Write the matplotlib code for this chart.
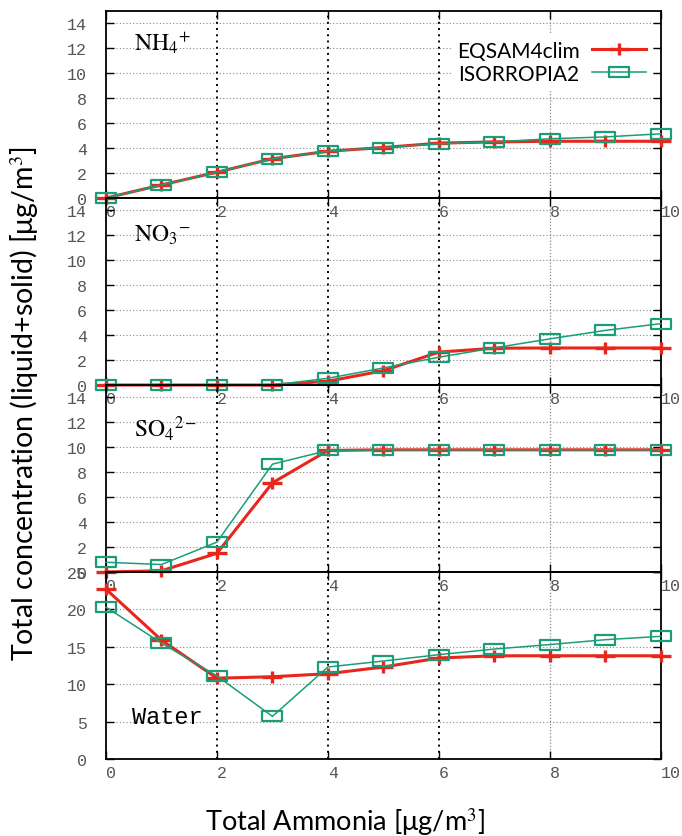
import matplotlib
matplotlib.use('Agg')
import matplotlib.pyplot as plt
from matplotlib.path import Path
import numpy as np

# total ammonia [ug/m3]
ammonia = [0, 1, 2, 3, 4, 5, 6, 7, 8, 9, 10]

# EQSAM4clim
eq_nh4 = [0.0, 1.05, 2.07, 3.15, 3.75, 4.05, 4.4, 4.5, 4.55, 4.55, 4.55]
eq_no3 = [0.0, 0.0, 0.0, 0.0, 0.3, 1.15, 2.64, 2.95, 2.97, 2.97, 2.97]
eq_so4 = [0.0, 0.1, 1.5, 7.15, 9.75, 9.8, 9.8, 9.8, 9.8, 9.8, 9.8]
eq_h2o = [22.7, 15.9, 10.8, 11.0, 11.4, 12.3, 13.5, 13.8, 13.8, 13.8, 13.8]

# ISORROPIA2
is_nh4 = [0.0, 1.05, 2.07, 3.15, 3.75, 4.05, 4.35, 4.5, 4.75, 4.9, 5.15]
is_no3 = [0.0, 0.0, 0.0, 0.0, 0.54, 1.37, 2.23, 2.98, 3.7, 4.38, 4.92]
is_so4 = [0.78, 0.6, 2.4, 8.65, 9.75, 9.8, 9.8, 9.8, 9.8, 9.8, 9.8]
is_h2o = [20.3, 15.5, 11.1, 5.7, 12.3, 13.1, 13.95, 14.7, 15.3, 15.95, 16.4]

panels = [
    (r'$\mathrm{NH_4{}^{+}}$', eq_nh4, is_nh4, 15, np.arange(0, 15, 2), 0.834),
    (r'$\mathrm{NO_3{}^{-}}$', eq_no3, is_no3, 15, np.arange(0, 15, 2), 0.807),
    (r'$\mathrm{SO_4{}^{2-}}$', eq_so4, is_so4, 15, np.arange(0, 15, 2), 0.775),
    ('Water', eq_h2o, is_h2o, 25, np.arange(0, 26, 5), 0.225),
]

red = '#e8261c'
green = '#1b9e77'
plus = Path([(-1, 0), (1, 0), (0, -0.55), (0, 0.55)],
            [Path.MOVETO, Path.LINETO, Path.MOVETO, Path.LINETO])
box = Path([(-1, -0.45), (1, -0.45), (1, 0.45), (-1, 0.45), (-1, -0.45)],
           [Path.MOVETO, Path.LINETO, Path.LINETO, Path.LINETO, Path.CLOSEPOLY])

plt.rcParams['mathtext.fontset'] = 'stix'

fig = plt.figure(figsize=(6.82, 8.37), dpi=100)
left, right = 0.1554, 0.969
top, bottom = 1 - 12 / 837, 1 - 760 / 837
h = (top - bottom) / 4

axes = []
for i, (name, eq, iso, ymax, yt, ty) in enumerate(panels):
    ax = fig.add_axes([left, top - (i + 1) * h, right - left, h])
    ax.set_facecolor('none')
    ax.set_xlim(0, 10)
    ax.set_ylim(0, ymax)
    ax.set_xticks(range(0, 11, 2))
    ax.set_yticks(yt)
    for y in yt[1:]:
        ax.axhline(y, color='#888888', lw=0.8, ls=(0, (1, 2)), zorder=0)
    for x in [2, 4, 6]:
        ax.axvline(x, color='black', lw=1.4, ls=(0, (1, 2.2)), zorder=0)
    ax.axvline(8, color='#888888', lw=0.9, ls=(0, (1, 1.5)), zorder=0)

    ax.plot(ammonia, eq, color=red, lw=2.2, marker=plus, ms=14.5, mew=2.4,
            label='EQSAM4clim', clip_on=False, zorder=3)
    ax.plot(ammonia, iso, color=green, lw=1.1, marker=box, ms=14.5, mew=1.6,
            mfc='none', label='ISORROPIA2', clip_on=False, zorder=4)

    ax.tick_params(direction='in', length=6, width=1, top=True, right=True,
                   colors='black', labelcolor='#555555', labelsize=12)
    ax.tick_params(axis='y', pad=13.5)
    ax.tick_params(axis='x', pad=4)
    for lab in ax.get_xticklabels() + ax.get_yticklabels():
        lab.set_fontfamily('Liberation Mono')
    for lab in ax.get_xticklabels():
        lab.set_ha('left')
    for s in ax.spines.values():
        s.set_linewidth(1.3)

    if name == 'Water':
        ax.text(0.047, ty, name, transform=ax.transAxes, fontsize=17,
                family='Liberation Mono', va='center', ha='left')
    else:
        ax.text(0.05, ty, name, transform=ax.transAxes, fontsize=17,
                va='center', ha='left')
    axes.append(ax)

leg = axes[0].legend(loc='upper right', bbox_to_anchor=(0.985, 0.875),
                     markerfirst=False, handlelength=2.6, frameon=True,
                     facecolor='white', edgecolor='none', framealpha=1,
                     prop={'family': 'Lato', 'size': 15}, borderaxespad=0,
                     labelspacing=0.15, handletextpad=0.6, borderpad=0.3)
leg.set_zorder(5)

fig.text(0.035, 0.518, 'Total concentration (liquid+solid) [μg/m$^3$]',
         rotation=90, ha='center', va='center', fontsize=20.5, family='Lato')
fig.text(0.506, 0.018, 'Total Ammonia [μg/m$^3$]', ha='center', va='center',
         fontsize=19.5, family='Lato')

plt.savefig('out.png', dpi=100)
